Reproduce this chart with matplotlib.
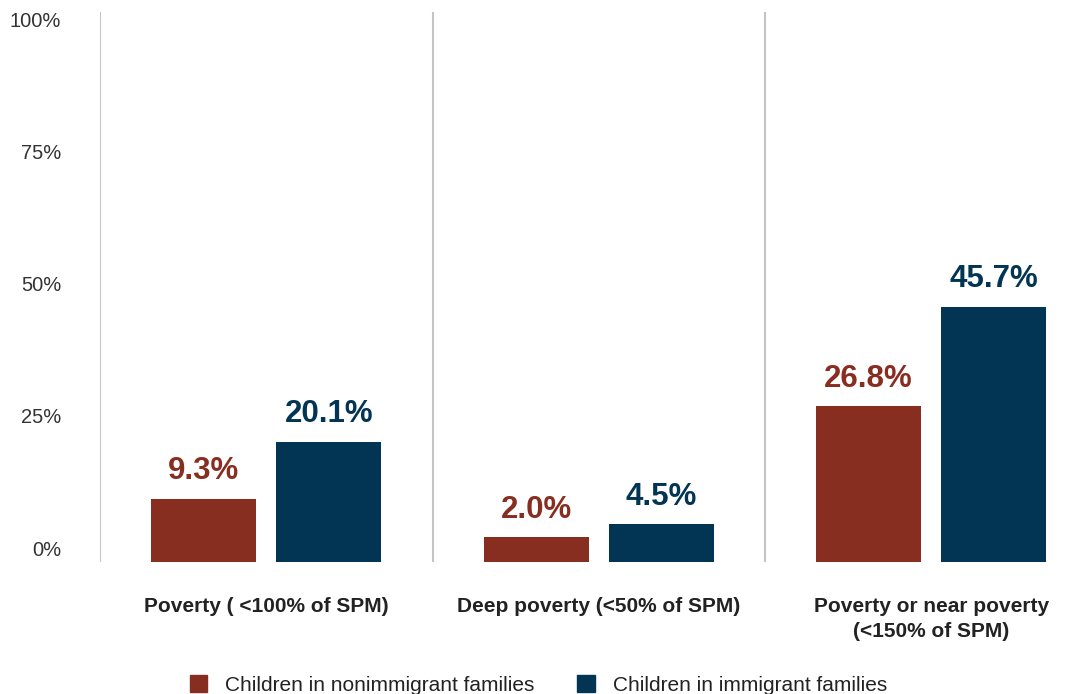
import numpy as np
import matplotlib
matplotlib.use("Agg")
import matplotlib.pyplot as plt
from matplotlib.patches import Patch

plt.rcParams["font.family"] = ["Liberation Sans", "DejaVu Sans"]

categories = ["Poverty ( <100% of SPM)", "Deep poverty (<50% of SPM)",
              "Poverty or near poverty\n(<150% of SPM)"]
nonimmigrant = [9.3, 2.0, 26.8]
immigrant = [20.1, 4.5, 45.7]
series_names = ["Children in nonimmigrant families", "Children in immigrant families"]
yticks = [0, 25, 50, 75, 100]

red = "#872e21"
blue = "#023553"

fig = plt.figure(figsize=(10.87, 6.94), dpi=100)
ax = fig.add_axes([100 / 1087, 132 / 694, 987 / 1087, 550 / 694])

y_lo, y_hi = -2.65, 101.5
ax.set_ylim(y_lo, y_hi)
ax.set_xlim(-0.5, -0.5 + 987 / 332.5)

x = np.arange(len(categories))
w = 0.316
off = 0.188
# bars start at the floor of the axis, as in the original
ax.bar(x - off, np.array(nonimmigrant) - y_lo, bottom=y_lo, width=w, color=red)
ax.bar(x + off, np.array(immigrant) - y_lo, bottom=y_lo, width=w, color=blue)

for xi, v in zip(x, nonimmigrant):
    ax.annotate(f"{v:.1f}%", (xi - off, v), xytext=(0, 9), textcoords="offset points",
                ha="center", va="bottom", fontsize=22.5, fontweight="bold", color=red)
for xi, v in zip(x, immigrant):
    ax.annotate(f"{v:.1f}%", (xi + off, v), xytext=(0, 9), textcoords="offset points",
                ha="center", va="bottom", fontsize=22.5, fontweight="bold", color=blue)

# group separators
for s in [-0.5, 0.5, 1.5]:
    ax.axvline(s, color="#c4c4c4", lw=1.5, zorder=0)

for sp in ax.spines.values():
    sp.set_visible(False)

ax.set_yticks(yticks)
ax.set_yticklabels([f"{t}%" for t in yticks], fontsize=14.5, color="#333333")
ax.tick_params(axis="y", length=0, pad=28)
ax.tick_params(axis="x", length=0)
ax.set_xticks([])

for xi, c in zip(x, categories):
    ax.text(xi, -0.063, c, transform=ax.get_xaxis_transform(), ha="center", va="top",
            fontsize=15, fontweight="bold", color="#222222", linespacing=1.45)

handles = [Patch(color=red), Patch(color=blue)]
fig.legend(handles, series_names, loc="lower left", bbox_to_anchor=(171 / 1087, -0.028),
           ncol=2, frameon=False, fontsize=15, handlelength=0.85, handleheight=0.85,
           columnspacing=2.05, handletextpad=0.85, labelcolor="#222222")

fig.savefig("out.png", dpi=100)
